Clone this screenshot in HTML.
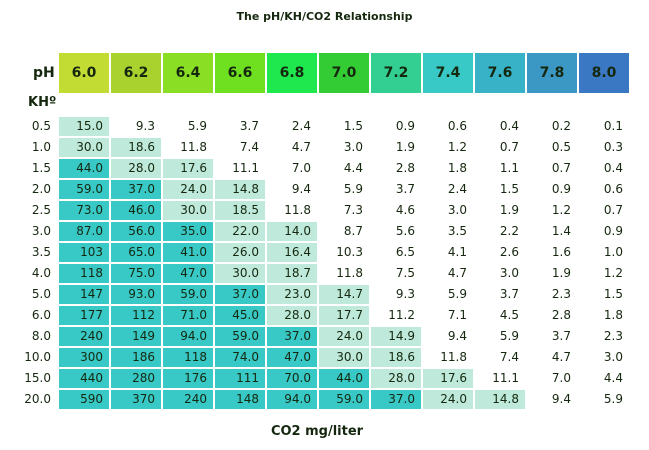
<!DOCTYPE html>
<html><head><meta charset="utf-8"><style>
body{margin:0;width:649px;height:450px;background:#fff;font-family:"DejaVu Sans","Liberation Sans",sans-serif;color:#15280f;position:relative;overflow:hidden}
.t{position:absolute;left:0;width:649px;top:10px;text-align:center;font-weight:bold;font-size:11px}
.h{position:absolute;top:53px;height:40px;width:50px;line-height:40px;text-align:center;font-weight:bold;font-size:14px}
.ph{position:absolute;left:33px;top:53px;line-height:40px;font-weight:bold;font-size:14px}
.kh{position:absolute;left:28px;top:95px;font-weight:bold;font-size:13px}
.g{position:absolute;left:59px;top:117px;display:grid;grid-template-columns:repeat(11,50px);grid-auto-rows:19px;column-gap:2px;row-gap:2px}
.g div{text-align:right;padding-right:6px;font-size:12px;line-height:19px}
.d{background:#38c8c6}.l{background:#bfeadb}
.rl{position:absolute;left:0;width:51px;text-align:right;font-size:12px;line-height:19px}
.c{position:absolute;left:0;width:634px;top:424px;text-align:center;font-weight:bold;font-size:13px}
</style></head><body>
<div class="t">The pH/KH/CO2 Relationship</div>
<div class="ph">pH</div>
<div class="h" style="left:59px;background:#c3dc34">6.0</div>
<div class="h" style="left:111px;background:#a9d22e">6.2</div>
<div class="h" style="left:163px;background:#8ade24">6.4</div>
<div class="h" style="left:215px;background:#6fe01f">6.6</div>
<div class="h" style="left:267px;background:#1ee84e">6.8</div>
<div class="h" style="left:319px;background:#34cc34">7.0</div>
<div class="h" style="left:371px;background:#33cf92">7.2</div>
<div class="h" style="left:423px;background:#38c9c6">7.4</div>
<div class="h" style="left:475px;background:#38b2c6">7.6</div>
<div class="h" style="left:527px;background:#3b98c4">7.8</div>
<div class="h" style="left:579px;background:#3b78c4">8.0</div>
<div class="kh">KHº</div>
<div id="rows"></div>
<div class="g" id="g"></div>
<div class="c">CO2 mg/liter</div>
<script>
var kh=["0.5","1.0","1.5","2.0","2.5","3.0","3.5","4.0","5.0","6.0","8.0","10.0","15.0","20.0"];
var d=[
["15.0","9.3","5.9","3.7","2.4","1.5","0.9","0.6","0.4","0.2","0.1"],
["30.0","18.6","11.8","7.4","4.7","3.0","1.9","1.2","0.7","0.5","0.3"],
["44.0","28.0","17.6","11.1","7.0","4.4","2.8","1.8","1.1","0.7","0.4"],
["59.0","37.0","24.0","14.8","9.4","5.9","3.7","2.4","1.5","0.9","0.6"],
["73.0","46.0","30.0","18.5","11.8","7.3","4.6","3.0","1.9","1.2","0.7"],
["87.0","56.0","35.0","22.0","14.0","8.7","5.6","3.5","2.2","1.4","0.9"],
["103","65.0","41.0","26.0","16.4","10.3","6.5","4.1","2.6","1.6","1.0"],
["118","75.0","47.0","30.0","18.7","11.8","7.5","4.7","3.0","1.9","1.2"],
["147","93.0","59.0","37.0","23.0","14.7","9.3","5.9","3.7","2.3","1.5"],
["177","112","71.0","45.0","28.0","17.7","11.2","7.1","4.5","2.8","1.8"],
["240","149","94.0","59.0","37.0","24.0","14.9","9.4","5.9","3.7","2.3"],
["300","186","118","74.0","47.0","30.0","18.6","11.8","7.4","4.7","3.0"],
["440","280","176","111","70.0","44.0","28.0","17.6","11.1","7.0","4.4"],
["590","370","240","148","94.0","59.0","37.0","24.0","14.8","9.4","5.9"]];
var h="",r="";
for(var i=0;i<d.length;i++){
 r+='<div class="rl" style="top:'+(117+i*21)+'px">'+kh[i]+'</div>';
 for(var j=0;j<11;j++){var v=parseFloat(d[i][j]);var c=v>30?"d":(v>=14?"l":"");
 h+='<div class="'+c+'">'+d[i][j]+'</div>';}
}
document.getElementById("g").innerHTML=h;document.getElementById("rows").innerHTML=r;
</script>
</body></html>
